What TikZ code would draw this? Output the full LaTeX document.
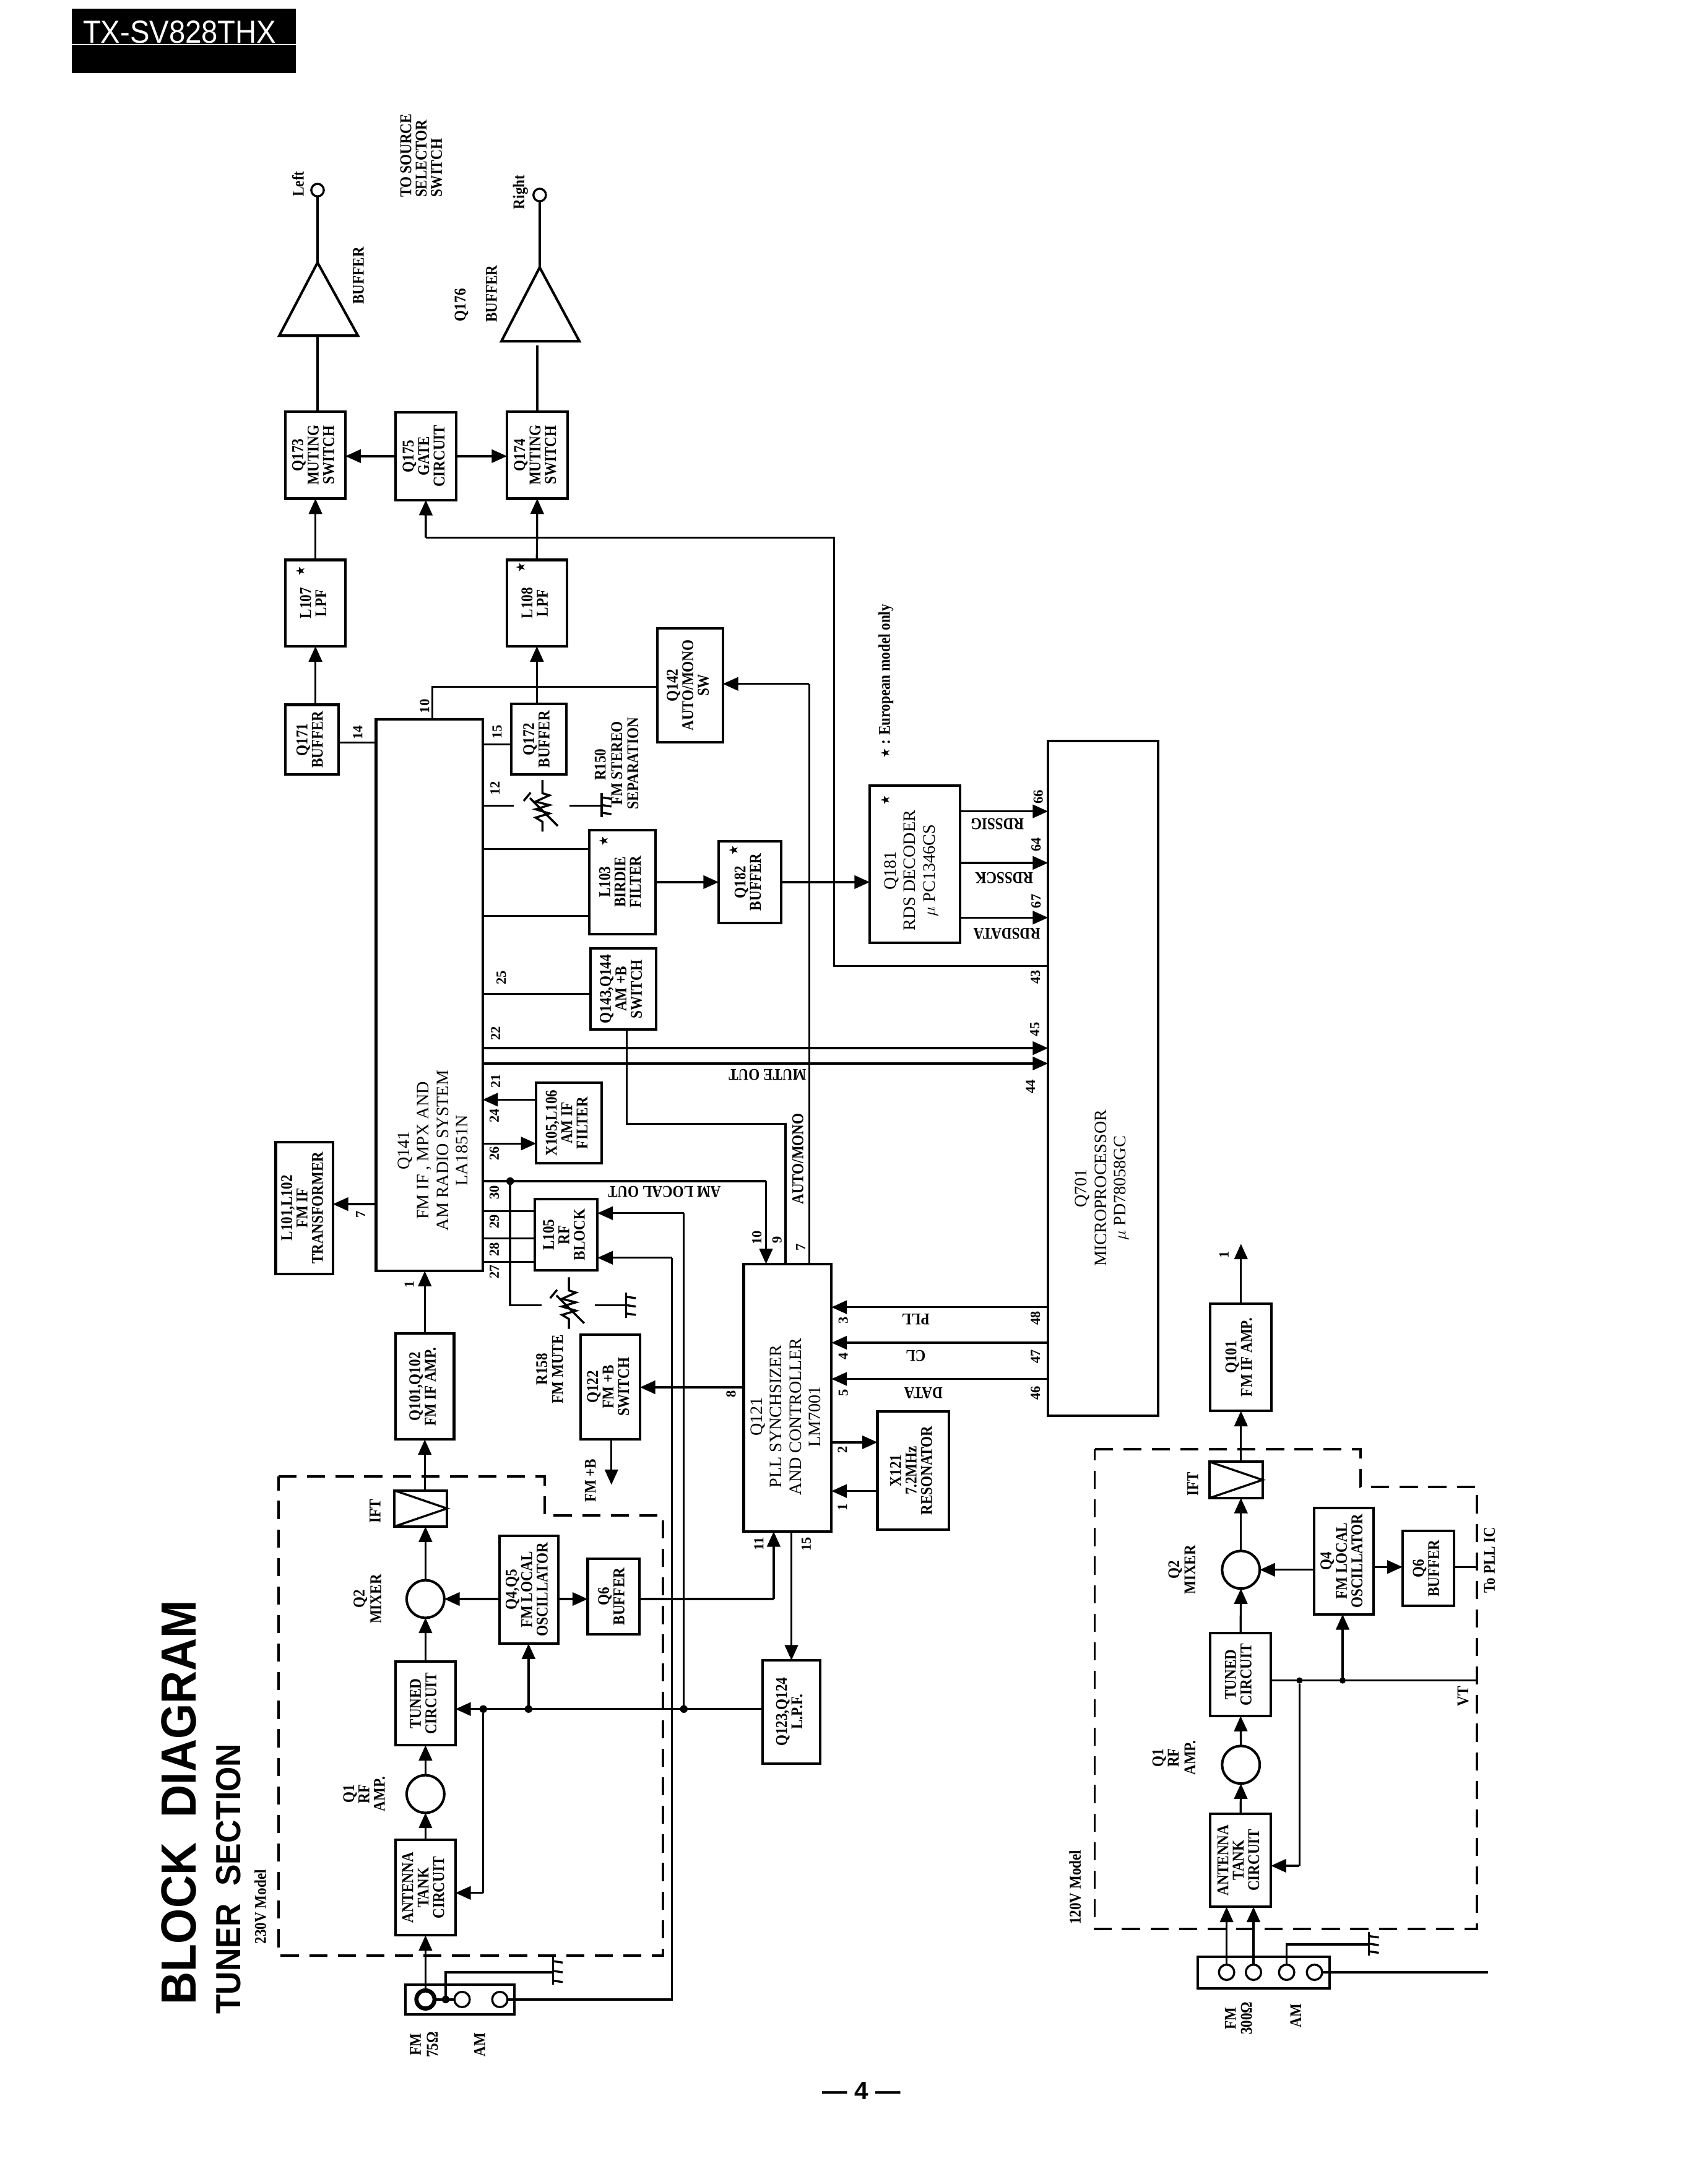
\documentclass[tikz,border=0pt]{standalone}
\usepackage{fontspec}
\usepackage{graphicx}
\setmainfont{Liberation Serif}
\newfontfamily\arialf{Liberation Sans}
\newfontfamily\dejaf{DejaVu Sans}
\usetikzlibrary{arrows.meta}
\newcounter{labc}
\newcommand{\txs}{1}
\newcommand{\rt}[1]{\rotatebox{90}{\scalebox{\txs}[1]{\begin{tabular}{@{}c@{}}#1\end{tabular}}}}
\newcommand{\fsm}{\fontsize{11.8}{11}\selectfont\bfseries\renewcommand{\txs}{.87}}
\newcommand{\fmd}{\fontsize{12.5}{14}\selectfont\renewcommand{\txs}{1}}
\newcommand{\fpin}{\fontsize{10}{11}\selectfont\bfseries\renewcommand{\txs}{1}}
\newcommand{\mystar}{{\dejaf\fontsize{9}{9}\selectfont ★}}
% block: [font] name x1 y1 x2 y2 text
\newcommand{\blk}[7][\fsm]{\node[blk,font=#1,minimum width={(#5-#3)*1pt},minimum height={(#6-#4)*1pt}] (#2) at ({(#3+#5)/2},{(#4+#6)/2}) {\rt{#7}};}
% free label, rotated 90
\newcommand{\lab}[4][\fsm]{\stepcounter{labc}\node[txt,font=#1] (l\thelabc) at (#2,#3) {\rt{#4}};}
% free label, upside down
\newcommand{\flab}[4][\fsm]{\stepcounter{labc}\node[txt,font=#1,rotate=180] (l\thelabc) at (#2,#3) {\scalebox{\txs}[1]{#4}};}
\newcommand{\pin}[3]{\lab[\fpin]{#1}{#2}{#3}}
\newcommand{\gnd}[3]{\draw[wire] (#1,#2) -- (#1,#3);
  \draw[wire,line width=1.5pt] (#1,{#2+3}) -- ({#1+7},{#2+4}) (#1,{(#2+#3)/2}) -- ({#1+7},{(#2+#3)/2+1}) (#1,{#3-3}) -- ({#1+7},{#3-2});}
\newcommand{\vres}[2]{\begin{scope}[shift={(#1,#2)}]
  \draw[wire] (0,-19) -- (0,-9.5) -- (5,-8) -- (-5,-3.5) -- (5,-1) -- (-5,2) -- (5,5) -- (-5,8) -- (0,11) -- (0,18);
  \draw[wire] (-9,-6) -- (11,14) (-13.5,-4) -- (-8.5,-10);
  \end{scope}}
\tikzset{
  blk/.style={draw,line width=1.8pt,rectangle,inner sep=0pt,outer sep=0pt,align=center},
  txt/.style={inner sep=0pt,outer sep=0pt,align=center},
  wire/.style={line width=1.5pt},
  arr/.style={line width=1.5pt,-{Triangle[length=11pt,width=9.5pt]}},
  dot/.style={circle,fill,inner sep=0pt,outer sep=0pt,minimum size=5.5pt},
  amp/.style={circle,draw,line width=1.8pt,inner sep=0pt,outer sep=0pt,minimum size=27pt},
  term/.style={circle,draw,line width=1.5pt,inner sep=0pt,outer sep=0pt,minimum size=11pt},
  dash box/.style={line width=1.6pt,dash pattern=on 13pt off 7.5pt},
}
\begin{document}
\begin{tikzpicture}[x=1pt,y=-1pt,line join=miter]
\useasboundingbox (0,0) rectangle (1212,1568);
\fill[white] (0,0) rectangle (1212,1568);
% header
\fill[black] (51.6,6.2) rectangle (212.5,52.6);
\draw[white,line width=0.5pt] (51.6,32) -- (212.5,32);
\node[txt,white,font=\arialf\fontsize{21}{24}\selectfont] (hdr) at (129,23) {\scalebox{1}[1.09]{TX-SV828THX}};
% titles
\node[txt,rotate=90,font=\arialf\bfseries\fontsize{35.5}{38}\selectfont] (title) at (128.5,1294) {\scalebox{.92}[1]{BLOCK\ \ DIAGRAM}};
\node[txt,rotate=90,font=\arialf\bfseries\fontsize{25}{28}\selectfont] (subtitle) at (164,1349) {\scalebox{.92}[1]{TUNER\ \ SECTION}};
\lab{188.5}{1369}{230V Model}
\node[txt,font=\arialf\bfseries\fontsize{18}{20}\selectfont] (pageno) at (618.5,1501) {— 4 —};
% dashed model frames
\draw[dash box] (200,1060) -- (391,1060) -- (391,1088) -- (476,1088) -- (476,1404) -- (200,1404) -- cycle;
\draw[dash box] (786,1040.5) -- (977,1040.5) -- (977,1067.5) -- (1060.5,1067.5) -- (1060.5,1385) -- (786,1385) -- cycle;
%%%%%%%% 230V front end
\blk{ant}{284}{1321}{327}{1389.5}{ANTENNA\\TANK\\CIRCUIT}
\node[amp] (q1a) at (305.5,1288) {};
\blk{tun}{284}{1193}{327}{1253}{TUNED\\CIRCUIT}
\node[amp] (q2a) at (305.5,1148) {};
\node[blk,minimum width=38pt,minimum height=26pt] (ifta) at (302,1083) {};
\draw[wire] (ifta.north west) -- (ifta.east) -- (ifta.south west);
\blk{lo}{358.5}{1102.5}{401}{1180}{Q4,Q5\\FM LOCAL\\OSCILLATOR}
\blk{bufa}{422}{1119}{459}{1173.5}{Q6\\BUFFER}
\lab{252}{1288}{Q1}\lab{263}{1288}{RF}\lab{274}{1288}{AMP.}
\lab{259.5}{1148}{Q2}\lab{271.5}{1148}{MIXER}
\lab{271}{1085}{IFT}
% terminal board 230
\node[blk,minimum width=78pt,minimum height=21.5pt] (boarda) at (330.3,1435.5) {};
\node[circle,draw,line width=3pt,inner sep=0pt,outer sep=0pt,minimum size=13pt] (ta1) at (305.5,1435.5) {};
\node[term] (ta2) at (331.8,1435.5) {};
\node[term] (ta3) at (358.9,1435.5) {};
\node[dot] (tad) at (320,1435.5) {};
\draw[wire] (ta1) -- (tad) -- (ta2);
\coordinate (gaw) at (320,1416);
\coordinate (gab) at (397,1416);
\draw[wire] (tad) -- (gaw) -- (gab);
\gnd{397}{1405}{1425}
\lab{300}{1468}{FM}\lab{312}{1468}{75Ω}\lab{346}{1468}{AM}
\draw[arr] (ta1) -- (ant.south -| ta1);
\draw[arr] (ant.north) -- (q1a.south);
\draw[arr] (q1a.north) -- (tun.south);
\draw[arr] (tun.north) -- (q2a.south);
\draw[arr] (q2a.north) -- (ifta.south -| q2a);
%%%%%%%% blocks main
\blk{ifamp}{284}{957.5}{326}{1033.5}{Q101,Q102\\FM IF AMP.}
\blk{trans}{198}{820}{239}{914.5}{L101,L102\\FM IF\\TRANSFORMER}
\blk[]{qma}{270}{516.5}{346.5}{912.5}{}
\lab[\fmd]{312}{826}{Q141\\FM IF , MPX AND\\AM RADIO SYSTEM\\LA1851N}
\blk{x105}{385}{777.5}{432}{835}{X105,L106\\AM IF\\FILTER}
\blk{rfb}{384}{861}{429}{912}{L105\\RF\\BLOCK}
\blk{q122}{417}{958}{459.5}{1033.5}{Q122\\FM +B\\SWITCH}
\blk{q143}{424}{681}{471}{739}{Q143,Q144\\AM +B\\SWITCH}
\blk{l103}{423}{596}{470.5}{670.5}{L103\\BIRDIE\\FILTER}
\blk{q182}{516}{604}{561}{662.5}{Q182\\BUFFER}
\blk{q181}{624.5}{564}{689.5}{677}{}
\lab[\fmd]{654.5}{625}{Q181\\RDS DECODER\\$\mu$ PC1346CS}
\blk{q142}{472}{451}{519}{533}{Q142\\AUTO/MONO\\SW}
\blk{q171}{205}{506}{243}{556}{Q171\\BUFFER}
\blk{q172}{367}{505.5}{406.5}{556}{Q172\\BUFFER}
\blk{l107}{205}{402}{248}{464}{L107\\LPF}
\blk{l108}{364}{402}{407}{464}{L108\\LPF}
\blk{q173}{205}{295.5}{248}{358}{Q173\\MUTING\\SWITCH}
\blk{q175}{284}{296}{327.5}{359}{Q175\\GATE\\CIRCUIT}
\blk{q174}{364}{295.5}{407.5}{358}{Q174\\MUTING\\SWITCH}
\blk{lpf}{547.5}{1192}{589}{1266}{Q123,Q124\\L.P.F.}
\blk{x121}{630}{1013.5}{681.5}{1098}{X121\\7.2MHz\\RESONATOR}
\blk{pll}{534}{907.5}{597}{1099.5}{}
\lab[\fmd]{565.5}{1017}{Q121\\PLL SYNCHSIZER\\AND CONTROLLER\\LM7001}
\blk{mpu}{752.5}{532}{831.5}{1016.5}{}
\lab[\fmd]{791.5}{853}{Q701\\MICROPROCESSOR\\$\mu$ PD78058GC}
% stars
\lab{216.5}{410}{\mystar}\lab{375}{407.5}{\mystar}\lab{434.5}{604}{\mystar}\lab{528}{610.5}{\mystar}\lab{636.5}{574.5}{\mystar}
\lab{636.5}{489}{\mystar{} : European model only}
% output triangles
\coordinate (tlb) at (228,241);
\coordinate (tla) at (228,188.5);
\coordinate (trb) at (387.5,245);
\coordinate (tra) at (387.5,192);
\draw[line width=1.8pt] (200.5,241) -- (tla) -- (257,241) -- cycle;
\draw[line width=1.8pt] (360,245) -- (tra) -- (416,245) -- cycle;
\node[circle,draw,line width=1.5pt,inner sep=0pt,outer sep=0pt,minimum size=9pt] (left) at (228,136.5) {};
\node[circle,draw,line width=1.5pt,inner sep=0pt,outer sep=0pt,minimum size=9pt] (right) at (387.5,140) {};
\draw[wire] (tla) -- (left);
\draw[wire] (tra) -- (right);
\lab{215.5}{132}{Left}\lab{374}{138}{Right}
\node[txt,font=\fsm,rotate=90,align=left] (srcsel) at (302.5,111.75) {\scalebox{.87}[1]{TO SOURCE}\\\scalebox{.87}[1]{SELECTOR}\\\scalebox{.87}[1]{SWITCH}};
\lab{259}{198}{BUFFER}\lab{332}{219}{Q176}\lab{354.5}{211}{BUFFER}
% chain wires, 230V IF
\draw[arr] (ifta.north -| ifamp) -- (ifamp.south);
\draw[arr] (ifamp.north) -- (qma.south -| ifamp);
\draw[arr] (qma.west |- 0,864.5) -- (trans.east |- 0,864.5);
\pin{260}{872}{7}\pin{295}{922}{1}
% trunk VT
\node[dot] (d1) at (347,1227) {};
\node[dot] (d2) at (379.5,1227) {};
\node[dot] (d3) at (491,1227) {};
\draw[arr] (lpf.west |- 0,1227) -- (tun.east |- 0,1227);
\draw[wire] (d1) -- (d1 |- 0,1359);
\draw[arr] (d1 |- 0,1359) -- (ant.east |- 0,1359);
\draw[arr] (d2) -- (lo.south -| d2);
\coordinate (rft) at (491,871);
\draw[wire] (d3) -- (rft);
\draw[arr] (rft) -- (rfb.east |- rft);
\draw[arr] (lo.west |- 0,1148) -- (q2a.east);
\draw[arr] (lo.east |- 0,1148) -- (bufa.west |- 0,1148);
\coordinate (c11) at (555.5,1148);
\draw[wire] (bufa.east |- 0,1148) -- (c11);
\draw[arr] (c11) -- (pll.south -| c11);
\pin{546}{1108.5}{11}\pin{580}{1108.5}{15}
\draw[arr] (pll.south -| lpf) -- (lpf.north);
% AM line
\coordinate (am1) at (482.5,1435.5);
\coordinate (am2) at (482.5,903);
\draw[wire] (ta3.east) -- (am1) -- (am2);
\draw[arr] (am2) -- (rfb.east |- am2);
% Q121 <-> Q122
\draw[arr] (pll.west |- 0,996) -- (q122.east |- 0,996);
\pin{526}{1001}{8}
\coordinate (fmb) at (439,1066);
\draw[arr] (q122.south -| fmb) -- (fmb);
\lab{425.5}{1063}{FM +B}
% Q141 east pins
\coordinate (am30) at (550,848);
\draw[wire] (qma.east |- am30) -- (am30);
\draw[arr] (am30) -- (pll.north -| am30);
\node[dot] (d4) at (366.3,848) {};
\coordinate (r1) at (366.3,937);
\coordinate (r2) at (389,937);
\draw[wire] (d4) -- (r1) -- (r2);
\vres{408.5}{936}
\coordinate (r3) at (427,937);
\coordinate (r4) at (449.5,937);
\draw[wire] (r3) -- (r4);
\gnd{449.5}{928}{946}
\lab{390.5}{983}{R158}\lab{402}{983}{FM MUTE}
\draw[wire] (qma.east |- 0,869.5) -- (rfb.west |- 0,869.5);
\draw[wire] (qma.east |- 0,889) -- (rfb.west |- 0,889);
\draw[wire] (qma.east |- 0,906) -- (rfb.west |- 0,906);
\pin{356}{856}{30}\pin{356}{877}{29}\pin{356}{897}{28}\pin{356}{913}{27}
\draw[arr] (x105.west |- 0,789.5) -- (qma.east |- 0,789.5);
\draw[arr] (qma.east |- 0,821) -- (x105.west |- 0,821);
\pin{357}{776}{21}\pin{356}{801}{24}\pin{356}{828}{26}
\flab{477}{855.5}{AM LOCAL OUT}
\draw[wire] (qma.east |- 0,713.5) -- (q143.west |- 0,713.5);
\pin{361}{702}{25}\pin{357}{742}{22}
\coordinate (am3) at (450,807);
\coordinate (am4) at (564,807);
\draw[wire] (q143.south -| am3) -- (am3) -- (am4) -- (pll.north -| am4);
\lab{574.5}{832}{AUTO/MONO}
\pin{544.5}{888.5}{10}\pin{559}{890}{9}\pin{576}{895.5}{7}
\draw[arr] (qma.east |- 0,752.5) -- (mpu.west |- 0,752.5);
\draw[arr] (qma.east |- 0,763.5) -- (mpu.west |- 0,763.5);
\flab{551}{771.5}{MUTE OUT}
\pin{744.5}{701.5}{43}\pin{744}{739}{45}\pin{741}{780}{44}
% auto/mono
\coordinate (am5) at (581,491);
\draw[wire] (pll.north -| am5) -- (am5);
\draw[arr] (am5) -- (q142.east |- am5);
\coordinate (t10) at (310.5,493);
\draw[wire] (qma.north -| t10) -- (t10) -- (q142.west |- t10);
\pin{306}{507}{10}
% stereo
\draw[wire] (q171.east |- 0,533) -- (qma.west |- 0,533);
\draw[wire] (qma.east |- 0,534.5) -- (q172.west |- 0,534.5);
\pin{258}{526}{14}\pin{358}{525.5}{15}\pin{356.5}{566}{12}
\coordinate (s1) at (369,578.5);
\draw[wire] (qma.east |- s1) -- (s1);
\vres{389.5}{579}
\coordinate (s2) at (409,578.5);
\coordinate (s3) at (432,578.5);
\draw[wire] (s2) -- (s3);
\gnd{432}{569.5}{586.5}
\lab{432.5}{549}{R150}\lab{444.5}{548}{FM STEREO}\lab{456}{548}{SEPARATION}
\draw[wire] (qma.east |- 0,609.5) -- (l103.west |- 0,609.5);
\draw[wire] (qma.east |- 0,657.5) -- (l103.west |- 0,657.5);
\draw[arr] (l103.east |- 0,633.3) -- (q182.west |- 0,633.3);
\draw[arr] (q182.east |- 0,633.3) -- (q181.west |- 0,633.3);
\draw[arr] (q181.east |- 0,582.5) -- (mpu.west |- 0,582.5);
\draw[arr] (q181.east |- 0,619.5) -- (mpu.west |- 0,619.5);
\draw[arr] (q181.east |- 0,658.8) -- (mpu.west |- 0,658.8);
\flab{716}{591.5}{RDSSIG}\flab{721}{630.5}{RDSSCK}\flab{723}{670.5}{RDSDATA}
\pin{746.5}{572}{66}\pin{745}{606.5}{64}\pin{745}{647}{67}
% gate line
\coordinate (g1) at (599,693.5);
\coordinate (g2) at (599,386);
\coordinate (g3) at (305.7,386);
\draw[wire] (mpu.west |- g1) -- (g1) -- (g2) -- (g3);
\draw[arr] (g3) -- (q175.south);
\draw[arr] (q175.west) -- (q173.east |- q175.west);
\draw[arr] (q175.east) -- (q174.west |- q175.east);
% audio path
\draw[arr] (q171.north -| l107) -- (l107.south);
\draw[arr] (l107.north) -- (q173.south);
\draw[line width=1.8pt] (q173.north -| tlb) -- (tlb);
\draw[arr] (q172.north -| l108) -- (l108.south);
\draw[arr] (l108.north) -- (q174.south);
\draw[line width=1.8pt] (q174.north) -- (q174.north |- 0,248);
% PLL bus
\draw[arr] (mpu.west |- 0,938.5) -- (pll.east |- 0,938.5);
\draw[arr] (mpu.west |- 0,964) -- (pll.east |- 0,964);
\draw[arr] (mpu.west |- 0,990) -- (pll.east |- 0,990);
\pin{606.5}{948}{3}\pin{606.5}{973.5}{4}\pin{606.5}{1000}{5}
\flab{657.5}{947}{PLL}\flab{657.5}{973.5}{CL}\flab{663}{1000}{DATA}
\pin{744.5}{946.5}{48}\pin{744.5}{974}{47}\pin{744.5}{1000}{46}
\draw[arr] (pll.east |- 0,1035.5) -- (x121.west |- 0,1035.5);
\draw[arr] (x121.west |- 0,1070.5) -- (pll.east |- 0,1070.5);
\pin{606}{1041}{2}\pin{606}{1082}{1}
%%%%%%%% 120V front end
\blk{antb}{869}{1302}{912.5}{1369}{ANTENNA\\TANK\\CIRCUIT}
\node[amp] (q1b) at (891,1267) {};
\blk{tunb}{869}{1172.5}{912.5}{1232}{TUNED\\CIRCUIT}
\node[amp] (q2b) at (891,1127) {};
\node[blk,minimum width=38pt,minimum height=26pt] (iftb) at (887.5,1062.5) {};
\draw[wire] (iftb.north west) -- (iftb.east) -- (iftb.south west);
\blk{lob}{943.5}{1082.5}{986}{1159}{Q4\\FM LOCAL\\OSCILLATOR}
\blk{bufb}{1007}{1099}{1044}{1153}{Q6\\BUFFER}
\blk{ifb}{869}{936}{913}{1013}{Q101\\FM IF AMP.}
\draw[arr] (antb.north) -- (q1b.south);
\draw[arr] (q1b.north) -- (tunb.south);
\draw[arr] (tunb.north) -- (q2b.south);
\draw[arr] (q2b.north) -- (iftb.south -| q2b);
\draw[arr] (iftb.north -| ifb) -- (ifb.south);
\coordinate (out1) at (891,893);
\draw[arr] (ifb.north) -- (out1);
\pin{880}{901}{1}
\node[dot,minimum size=4.5pt] (d5) at (933,1206.5) {};
\node[dot,minimum size=4.5pt] (d6) at (964,1206.5) {};
\coordinate (vt) at (1060,1206.5);
\draw[wire] (tunb.east |- vt) -- (vt);
\draw[wire] (d5) -- (d5 |- 0,1339.5);
\draw[arr] (d5 |- 0,1339.5) -- (antb.east |- 0,1339.5);
\draw[arr] (d6) -- (lob.south -| d6);
\draw[arr] (lob.west |- 0,1127) -- (q2b.east);
\draw[arr] (lob.east |- 0,1125) -- (bufb.west |- 0,1125);
\coordinate (topll) at (1060,1125);
\draw[wire] (bufb.east |- topll) -- (topll);
\lab{1071}{1120}{To PLL IC}
\lab{1052}{1218}{VT}
\lab{858}{1065.5}{IFT}
\lab{844.5}{1127}{Q2}\lab{856}{1127}{MIXER}
\lab{833}{1262}{Q1}\lab{844}{1262}{RF}\lab{856}{1262}{AMP.}
\lab{773.5}{1355}{120V Model}
% terminal board 120
\node[blk,minimum width=94.5pt,minimum height=22.5pt] (boardb) at (907.3,1416.3) {};
\node[term] (tb1) at (880.7,1416) {};
\node[term] (tb2) at (900,1416) {};
\node[term] (tb3) at (923.8,1416) {};
\node[term] (tb4) at (943.8,1416) {};
\draw[arr] (tb1) -- (antb.south -| tb1);
\draw[arr] (tb2) -- (antb.south -| tb2);
\coordinate (gb1) at (923.8,1396);
\coordinate (gb2) at (983,1396);
\draw[wire] (tb3) -- (gb1) -- (gb2);
\gnd{983}{1387}{1404}
\coordinate (amb) at (1068.5,1416);
\draw[wire] (tb4.east) -- (amb);
\lab{885}{1449}{FM}\lab{896.5}{1449}{300Ω}\lab{932}{1447}{AM}
\end{tikzpicture}
\end{document}
